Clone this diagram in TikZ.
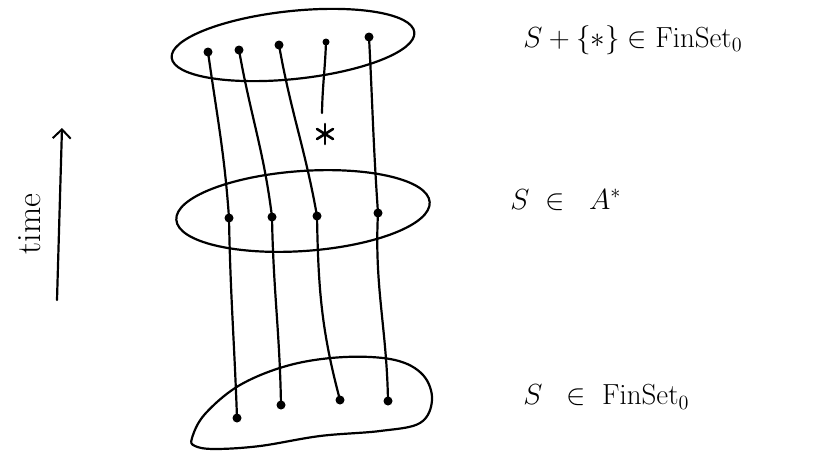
\documentclass[tikz,border=0pt]{standalone}
\usetikzlibrary{arrows.meta}
\begin{document}
\begin{tikzpicture}[x=1pt,y=-1pt,
  ink/.style={line width=2.2pt, line cap=round, line join=round},
  dot/.style={circle, fill=black, inner sep=0pt, minimum size=9pt},
  lbl/.style={anchor=west, inner sep=0pt, scale=1.4, font=\huge}]
\useasboundingbox (0,0) rectangle (832,450);
% sets
\draw[ink, rotate around={6:(293,45)}] (293,45) ellipse [x radius=122, y radius=34];
\draw[ink, rotate around={4:(303,211)}] (303,211) ellipse [x radius=127, y radius=40];
\draw[ink] plot[smooth cycle, tension=0.6] coordinates {(192,438) (205,414) (240,385) (290,365) (345,357) (395,360) (423,375) (432,400) (420,423) (380,431) (320,436) (260,446) (215,449) (195,446)};
% elements
\node[dot] (t1) at (208,52) {};
\node[dot] (t2) at (239,50) {};
\node[dot] (t3) at (279,45) {};
\node[dot, minimum size=7pt] (t4) at (326,42) {};
\node[dot] (t5) at (369,37) {};
\node[dot] (m1) at (229,218) {};
\node[dot] (m2) at (272,217) {};
\node[dot] (m3) at (317,216) {};
\node[dot] (m4) at (378,213) {};
\node[dot] (b1) at (237,418) {};
\node[dot] (b2) at (281,405) {};
\node[dot] (b3) at (340,400) {};
\node[dot] (b4) at (388,401) {};
\coordinate (e4) at (322,113);
% the added point *
\coordinate (star) at (325,134);
\draw[ink, line width=2.6pt] ([shift={(0,-10)}]star) -- ([shift={(0,10)}]star);
\draw[ink, line width=2.6pt] ([shift={(-8,-5)}]star) -- ([shift={(8,5)}]star);
\draw[ink, line width=2.6pt] ([shift={(-8,5)}]star) -- ([shift={(8,-5)}]star);
% strands
\draw[ink] (t1.center) to[out=-82,in=94] (m1.center);
\draw[ink] (t2.center) to[out=-80,in=97] (m2.center);
\draw[ink] (t3.center) to[out=-80,in=100] (m3.center);
\draw[ink] (t4.center) to[out=-92,in=89] (e4);
\draw[ink] (t5.center) to[out=-87,in=94] (m4.center);
\draw[ink] (m1.center) to[out=-89,in=92] (b1.center);
\draw[ink] (m2.center) to[out=-89,in=91] (b2.center);
\draw[ink] (m3.center) to[out=-89,in=105] (b3.center);
\draw[ink] (m4.center) to[out=-93,in=91] (b4.center);
% time arrow
\coordinate (tlow) at (57,300);
\coordinate (thigh) at (62,128);
\draw[ink, -{Straight Barb[length=9pt,width=18pt,line width=2pt]}] (tlow) -- (thigh);
\node[rotate=90, font=\fontsize{34}{38}\selectfont, inner sep=0pt] (time) at (30,224) {time};
% labels
\node[lbl] (l1) at (523,40) {$S+\{*\}\in\mathrm{FinSet}_0$};
\node[lbl] (l2) at (510,200) {$S\;\in\;\;A^{*}$};
\node[lbl] (l3) at (523,397) {$S\;\;\in\;\mathrm{FinSet}_0$};
\end{tikzpicture}
\end{document}
